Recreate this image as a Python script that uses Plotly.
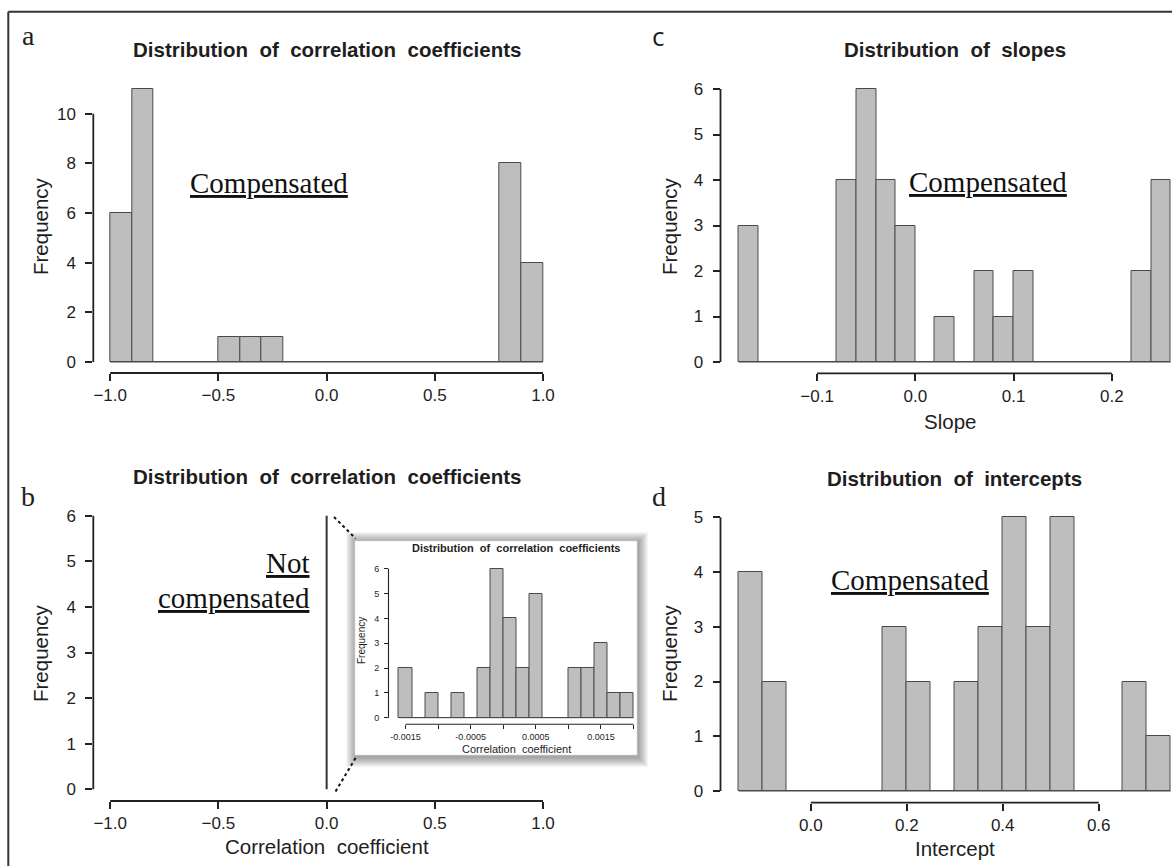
import plotly.graph_objects as go

W, H = 1172, 866
SANS = "Liberation Sans, Arial, sans-serif"
SERIF = "Liberation Serif, Times New Roman, serif"

# ---------------- data ----------------
a_bin_start = -1.0
a_bin_width = 0.1
a_counts = [6, 11, 0, 0, 0, 1, 1, 1, 0, 0, 0, 0, 0, 0, 0, 0, 0, 0, 8, 4]

inset_bin_start = -0.0016
inset_bin_width = 0.0002
inset_counts = [2, 0, 1, 0, 1, 0, 2, 6, 4, 2, 5, 0, 0, 2, 2, 3, 1, 1]

c_bin_start = -0.18
c_bin_width = 0.02
c_counts = [3, 0, 0, 0, 0, 4, 6, 4, 3, 0, 1, 0, 2, 1, 2, 0, 0, 0, 0, 0, 2, 4]

d_bin_start = -0.15
d_bin_width = 0.05
d_counts = [4, 2, 0, 0, 0, 0, 3, 2, 0, 2, 3, 5, 3, 5, 0, 0, 2, 1]

a_xticks = [-1.0, -0.5, 0.0, 0.5, 1.0]
a_yticks = [0, 2, 4, 6, 8, 10]
b_xticks = [-1.0, -0.5, 0.0, 0.5, 1.0]
b_yticks = [0, 1, 2, 3, 4, 5, 6]
c_xticks = [-0.1, 0.0, 0.1, 0.2]
c_yticks = [0, 1, 2, 3, 4, 5, 6]
d_xticks = [0.0, 0.2, 0.4, 0.6]
d_yticks = [0, 1, 2, 3, 4, 5]
inset_xticks = [-0.0015, -0.001, -0.0005, 0.0, 0.0005, 0.001, 0.0015, 0.002]
inset_xlabels = ["-0.0015", "", "-0.0005", "", "0.0005", "", "0.0015", ""]
inset_yticks = [0, 1, 2, 3, 4, 5, 6]

SP = "\u00a0 "  # R-like wide word spacing
title_corr = SP.join(["Distribution", "of", "correlation", "coefficients"])
title_slopes = SP.join(["Distribution", "of", "slopes"])
title_inter = SP.join(["Distribution", "of", "intercepts"])
xlab_corr = SP.join(["Correlation", "coefficient"])
ylab = "Frequency"

BAR_FILL = "#BEBEBE"
BAR_LINE = "#4a4a4a"
INK = "#1e1e1e"


def px_x(p):
    return p / W


def px_y(p):
    return 1 - p / H


def axis_map(v0, p0, v1, p1, plo, phi, vertical=False):
    s = (p1 - p0) / (v1 - v0)
    vlo = v0 + (plo - p0) / s
    vhi = v0 + (phi - p0) / s
    if vertical:
        dom = [px_y(plo), px_y(phi)]
    else:
        dom = [px_x(plo), px_x(phi)]
    return dom, [vlo, vhi]


def hist_trace(start, width, counts, ax):
    centers = [start + width * (i + 0.5) for i in range(len(counts))]
    return go.Bar(x=centers, y=counts, width=width,
                  marker=dict(color=BAR_FILL, line=dict(color=BAR_LINE, width=1)),
                  xaxis="x" + ax, yaxis="y" + ax, showlegend=False,
                  hoverinfo="skip")


def baseline_trace(start, width, counts, ax, lw=1):
    return go.Scatter(x=[start, start + width * len(counts)], y=[0, 0],
                      mode="lines", line=dict(color=BAR_LINE, width=lw),
                      xaxis="x" + ax, yaxis="y" + ax, showlegend=False,
                      hoverinfo="skip")


fig = go.Figure()

# panel a
fig.add_trace(baseline_trace(a_bin_start, a_bin_width, a_counts, ""))
fig.add_trace(hist_trace(a_bin_start, a_bin_width, a_counts, ""))
# panel b (inset data squeezed near zero on the wide axis)
b_center = inset_bin_start + inset_bin_width * len(inset_counts) / 2
fig.add_trace(go.Scatter(x=[b_center, b_center], y=[0, max(inset_counts)],
                         mode="lines", line=dict(color="#333333", width=2),
                         xaxis="x2", yaxis="y2", showlegend=False, hoverinfo="skip"))
# panel c
fig.add_trace(baseline_trace(c_bin_start, c_bin_width, c_counts, "3"))
fig.add_trace(hist_trace(c_bin_start, c_bin_width, c_counts, "3"))
# panel d
fig.add_trace(baseline_trace(d_bin_start, d_bin_width, d_counts, "4"))
fig.add_trace(hist_trace(d_bin_start, d_bin_width, d_counts, "4"))
# inset
fig.add_trace(baseline_trace(inset_bin_start, inset_bin_width, inset_counts, "5"))
fig.add_trace(hist_trace(inset_bin_start, inset_bin_width, inset_counts, "5"))


def axes(xmap, ymap, xpx, ypx, xt, yt, xfmt, ax, font=17, ticklen=7, tw=1.6,
         xlabels=None, standoff=6):
    xd, xr = axis_map(xmap[0], xmap[1], xmap[2], xmap[3], xpx[0], xpx[1])
    yd, yr = axis_map(ymap[0], ymap[1], ymap[2], ymap[3], ypx[0], ypx[1], vertical=True)
    common = dict(showgrid=False, zeroline=False, showline=False, ticks="outside",
                  ticklen=ticklen, tickwidth=tw, tickcolor="#222222",
                  tickfont=dict(family=SANS, size=font, color=INK), fixedrange=True)
    xa = dict(domain=xd, range=xr, anchor="y" + ax, tickvals=xt, **common)
    if xlabels is not None:
        xa["ticktext"] = xlabels
    else:
        xa["tickformat"] = xfmt
    ya = dict(domain=yd, range=yr, anchor="x" + ax, tickvals=yt, tickformat="d",
              ticklabelstandoff=standoff, **common)
    name = ax if ax else ""
    fig.update_layout(**{"xaxis" + name: xa, "yaxis" + name: ya})


axes((-1.0, 110.2, 1.0, 543.0), (0, 362.0, 10, 113.7), (93.3, 556), (373.0, 78),
     a_xticks, a_yticks, ".1f", "")
axes((-1.0, 110.2, 1.0, 543.0), (0, 789.3, 6, 515.7), (93.3, 556), (801.0, 505),
     b_xticks, b_yticks, ".1f", "2")
axes((-0.1, 817.1, 0.2, 1111.8), (0, 362.0, 6, 89.0), (720.5, 1172), (373.3, 78),
     c_xticks, c_yticks, ".1f", "3")
axes((0.0, 810.8, 0.6, 1098.7), (0, 791.0, 5, 517.3), (720.5, 1172), (802.7, 505),
     d_xticks, d_yticks, ".1f", "4")
axes((-0.0015, 405.5, 0.002, 633.5), (0, 717.7, 6, 568.7), (388.5, 636), (724.3, 562),
     inset_xticks, inset_yticks, None, "5", font=9, ticklen=3.5, tw=1.1,
     xlabels=inset_xlabels, standoff=3)

shapes = []
# figure frame (top and left)
shapes.append(dict(type="line", xref="paper", yref="paper", x0=px_x(8.3), x1=1,
                   y0=px_y(11.7), y1=px_y(11.7), line=dict(color="#333333", width=2)))
shapes.append(dict(type="line", xref="paper", yref="paper", x0=px_x(8.3), x1=px_x(8.3),
                   y0=px_y(11.7), y1=0, line=dict(color="#333333", width=2)))

# R-style detached axis lines
for ax, xt, yt, lw in [("", a_xticks, a_yticks, 1.8), ("2", b_xticks, b_yticks, 1.8),
                       ("3", c_xticks, c_yticks, 1.8), ("4", d_xticks, d_yticks, 1.8),
                       ("5", inset_xticks, inset_yticks, 1.1)]:
    xname = "x" + ax
    yname = "y" + ax
    shapes.append(dict(type="line", xref=xname, yref=yname + " domain",
                       x0=min(xt), x1=max(xt), y0=0, y1=0,
                       line=dict(color="#222222", width=lw)))
    shapes.append(dict(type="line", xref=xname + " domain", yref=yname,
                       x0=0, x1=0, y0=min(yt), y1=max(yt),
                       line=dict(color="#222222", width=lw)))

# inset box with soft shadow
bx0, bx1, by0, by1 = 355.0, 637.0, 541.0, 755.0
for k in range(10, 0, -1):
    shapes.append(dict(type="rect", xref="paper", yref="paper", layer="below",
                       x0=px_x(bx0 - k + 1), x1=px_x(bx1 + k + 1),
                       y0=px_y(by1 + k + 2), y1=px_y(by0 - k + 1),
                       line=dict(width=0), fillcolor="rgba(0,0,0,0.04)"))
shapes.append(dict(type="rect", xref="paper", yref="paper", layer="below",
                   x0=px_x(bx0), x1=px_x(bx1), y0=px_y(by1), y1=px_y(by0),
                   line=dict(color="#dddddd", width=0.6), fillcolor="white"))
# zoom connectors
shapes.append(dict(type="line", xref="paper", yref="paper", x0=px_x(334), y0=px_y(517),
                   x1=px_x(355.6), y1=px_y(538.5), line=dict(color="#111111", width=2, dash="dot")))
shapes.append(dict(type="line", xref="paper", yref="paper", x0=px_x(355.6), y0=px_y(758),
                   x1=px_x(334), y1=px_y(794), line=dict(color="#111111", width=2, dash="dot")))

ann = []


def text(x, y, s, size, family=SANS, bold=False, angle=0, xanchor="center", color=INK):
    ann.append(dict(x=px_x(x), y=px_y(y), xref="paper", yref="paper", text=("<b>%s</b>" % s) if bold else s,
                    showarrow=False, xanchor=xanchor, yanchor="middle", textangle=angle,
                    font=dict(family=family, size=size, color=color)))


# panel letters
text(28, 36, "a", 28, SERIF)
text(28, 497, "b", 28, SERIF)
text(658, 36, "c", 26, "Open Sans, sans-serif")
text(659, 497, "d", 28, SERIF)

# titles
text(326.6, 50, title_corr, 20.5, bold=True)
text(326.6, 477, title_corr, 20.5, bold=True)
text(954.5, 50, title_slopes, 20.5, bold=True)
text(954.5, 478, title_inter, 20.5, bold=True)

# axis labels
text(40, 226, ylab, 20.5, angle=-90)
text(40, 653, ylab, 20.5, angle=-90)
text(669, 226, ylab, 20.5, angle=-90)
text(669, 653, ylab, 20.5, angle=-90)
text(326.6, 846, xlab_corr, 20.5)
text(950, 421, "Slope", 20.5)
text(955, 848, "Intercept", 20.5)

# annotations in plots
text(188, 183, "<u>Compensated</u>", 29, SERIF, xanchor="left", color="#111111")
text(907, 182, "<u>Compensated</u>", 29, SERIF, xanchor="left", color="#111111")
text(828.5, 580, "<u>Compensated</u>", 29, SERIF, xanchor="left", color="#111111")
text(311.5, 563, "<u>Not</u>", 29, SERIF, xanchor="right", color="#111111")
text(311.5, 598, "<u>compensated</u>", 29, SERIF, xanchor="right", color="#111111")

# inset labels
text(516, 547.5, title_corr, 11, bold=True)
text(361, 640, ylab, 10, angle=-90)
text(516, 749, xlab_corr, 11)

fig.update_layout(width=W, height=H, margin=dict(l=0, r=0, t=0, b=0),
                  paper_bgcolor="white", plot_bgcolor="rgba(0,0,0,0)",
                  shapes=shapes, annotations=ann, showlegend=False, bargap=0)

fig.write_html("out.html")
